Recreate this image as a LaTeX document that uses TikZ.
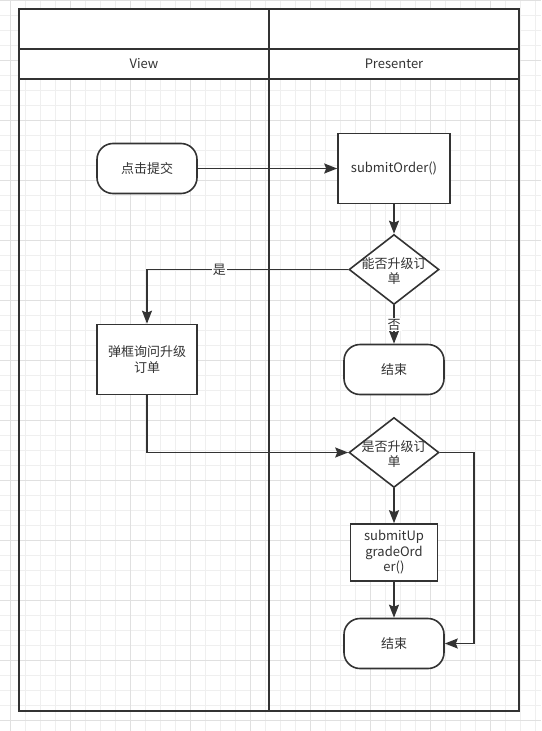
\documentclass[tikz,border=0pt]{standalone}
\usepackage{fontspec}
\setmainfont{Noto Sans CJK SC}
\usetikzlibrary{arrows.meta,shapes.geometric}
\definecolor{ln}{HTML}{333333}
\definecolor{gmin}{HTML}{EFEFEF}
\definecolor{gmaj}{HTML}{E0E0E0}
\begin{document}
\begin{tikzpicture}[x=1pt,y=-1pt,
  every node/.style={font=\fontsize{13}{15.5}\selectfont, text=ln},
  frame/.style={draw=ln, line width=2.2pt},
  term/.style={draw=ln, line width=1.6pt, fill=white, rounded corners=16pt, minimum width=100pt, minimum height=50pt, align=center},
  proc/.style={draw=ln, line width=1.6pt, fill=white, align=center, inner sep=0pt},
  dec/.style={draw=ln, line width=1.6pt, fill=white, diamond, minimum width=90pt, minimum height=70pt, inner sep=0pt},
  dtext/.style={align=center, inner sep=0pt, font=\fontsize{13}{14.5}\selectfont},
  flow/.style={draw=ln, line width=1.6pt, -{Stealth[length=13pt,width=10pt,inset=2pt]}},
  lbl/.style={fill=white, inner sep=1pt}
]
% background and grid
\fill[white] (0,0) rectangle (541,731);
\useasboundingbox (0,0) rectangle (541,731);
\foreach \i in {0,...,35} {\draw[gmin, line width=0.8pt] (10.7+15*\i,0) -- (10.7+15*\i,731);}
\foreach \i in {0,...,48} {\draw[gmin, line width=0.8pt] (0,0.7+15*\i) -- (541,0.7+15*\i);}
\foreach \i in {0,...,8} {\draw[gmaj, line width=0.8pt] (10.7+60*\i,0) -- (10.7+60*\i,731);}
\foreach \i in {0,...,12} {\draw[gmaj, line width=0.8pt] (0,0.7+60*\i) -- (541,0.7+60*\i);}

% swimlanes
\draw[frame, fill=white] (19,9) rectangle (519,79);
\draw[frame] (19,9) rectangle (519,711);
\draw[frame] (269,9) -- (269,711);
\draw[frame] (19,49) -- (519,49);
\draw[frame] (19,79) -- (519,79);
\node (vl) at (144,64) {View};
\node (pl) at (394,64) {Presenter};

% nodes
\node[term] (start) at (147,168.5) {点击提交};
\node[proc, minimum width=112pt, minimum height=70pt] (submit) at (394,168.5) {submitOrder()};
\node[dec] (d1) at (394,269.5) {};
\node[dtext] (d1t) at (394,271) {能否升级订\\单};
\node[term] (end1) at (394,369.5) {结束};
\node[proc, minimum width=100pt, minimum height=70pt] (ask) at (147,359.5) {弹框询问升级\\订单};
\node[dec] (d2) at (394,452.5) {};
\node[dtext] (d2t) at (394,454) {是否升级订\\单};
\node[proc, minimum width=87pt, minimum height=57pt, font=\fontsize{13}{15.5}\selectfont] (upg) at (394,552.5) {submitUp\\gradeOrd\\er()};
\node[term] (end2) at (394,643.5) {结束};
\coordinate (loop) at (474,452.5);

% connectors
\draw[flow] (start) -- (submit);
\draw[flow] (submit) -- (d1);
\draw[flow] (d1.west) -| node[lbl, pos=0.32] {是} (ask.north);
\draw[flow] (d1) -- node[lbl] {否} (end1);
\draw[flow] (ask.south) |- (d2.west);
\draw[flow] (d2) -- (upg);
\draw[flow] (upg) -- (end2);
\draw[flow] (d2.east) -- (loop) |- (end2.east);
\end{tikzpicture}
\end{document}
